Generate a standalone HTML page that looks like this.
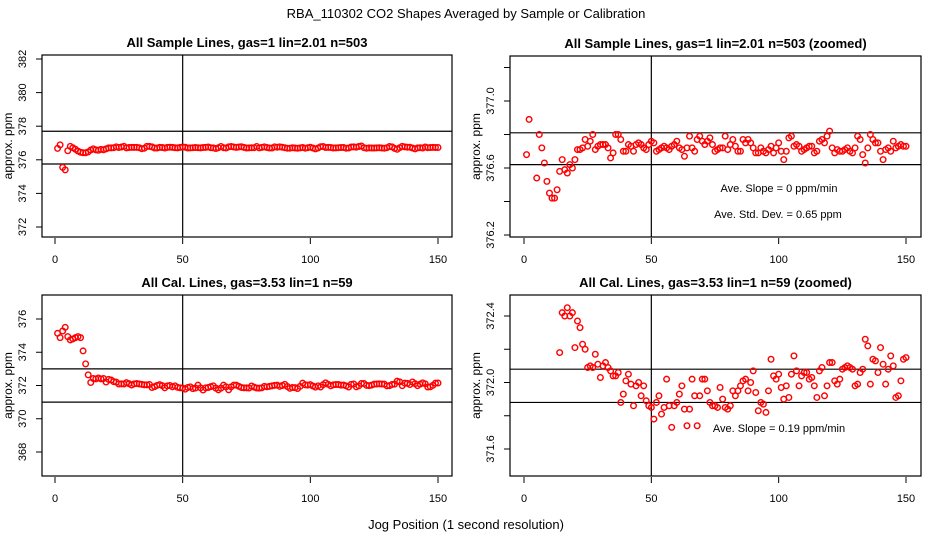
<!DOCTYPE html>
<html><head><meta charset="utf-8"><style>
body{margin:0;background:#fff;}
svg{display:block;font-family:"Liberation Sans",sans-serif;}
</style></head><body>
<svg id="chart" width="936" height="540" viewBox="0 0 936 540">
<text x="466" y="18" text-anchor="middle" font-size="13">RBA_110302  CO2 Shapes Averaged by Sample or Calibration</text>
<text x="466" y="529" text-anchor="middle" font-size="13">Jog Position (1 second resolution)</text>
</svg>
<script>
const sampleValues=[376.68,376.89,375.55,375.40,376.54,376.80,376.72,376.63,376.52,376.45,
376.42,376.42,376.47,376.58,376.65,376.59,376.57,376.62,376.60,376.65,
376.71,376.71,376.72,376.77,376.73,376.76,376.80,376.71,376.73,376.74,
376.74,376.74,376.72,376.66,376.69,376.80,376.80,376.77,376.70,376.70,
376.74,376.73,376.70,376.74,376.75,376.74,376.72,376.71,376.74,376.76,
376.75,376.70,376.71,376.72,376.73,376.72,376.71,376.73,376.74,376.76,
376.72,376.71,376.67,376.72,376.79,376.72,376.70,376.77,376.79,376.76,
376.74,376.76,376.78,376.74,376.70,376.71,376.72,376.72,376.79,376.71,
376.74,376.77,376.73,376.70,376.70,376.77,376.75,376.77,376.75,376.72,
376.69,376.69,376.72,376.70,376.69,376.71,376.73,376.69,376.72,376.75,
376.70,376.65,376.70,376.78,376.79,376.73,376.74,376.73,376.70,376.71,
376.72,376.73,376.73,376.69,376.70,376.76,376.77,376.75,376.79,376.82,
376.72,376.69,376.71,376.70,376.70,376.71,376.72,376.70,376.69,376.72,
376.79,376.77,376.68,376.63,376.72,376.80,376.77,376.75,376.75,376.70,
376.65,376.71,376.72,376.70,376.76,376.72,376.73,376.74,376.73,376.73];
const calValues=[375.14,374.88,375.28,375.50,374.94,374.74,374.80,374.88,374.94,374.88,
374.08,373.30,372.64,372.18,372.42,372.40,372.45,372.40,372.42,372.21,
372.37,372.33,372.23,372.20,372.09,372.10,372.09,372.17,372.11,372.03,
372.10,372.12,372.09,372.07,372.04,372.04,372.06,371.88,371.93,372.01,
372.05,371.99,371.86,371.98,372.00,371.92,371.98,371.89,371.86,371.85,
371.78,371.88,371.92,371.81,371.85,372.02,371.86,371.73,371.86,371.88,
371.93,371.98,371.84,371.74,371.84,372.02,371.92,371.74,371.92,372.02,
372.02,371.95,371.88,371.86,371.86,371.85,371.97,371.90,371.85,371.84,
371.86,371.95,371.92,371.95,371.98,372.01,372.02,371.95,372.00,372.07,
371.94,371.83,371.88,371.87,371.82,371.95,372.14,372.04,372.02,372.05,
371.97,371.90,371.98,371.91,372.05,372.16,372.07,371.98,372.04,372.06,
372.06,372.02,372.03,371.98,371.91,372.07,372.09,371.92,371.98,372.12,
372.12,372.01,371.99,372.02,372.08,372.09,372.10,372.09,372.08,371.98,
371.99,372.06,372.08,372.26,372.22,371.99,372.14,372.13,372.06,372.21,
372.11,371.99,372.08,372.16,372.10,371.91,371.92,372.01,372.14,372.15];
const xTicks=[0,50,100,150];
const ticksTL=[372,374,376,378,380,382];
const ticksTR=[376.2,376.4,376.6,376.8,377.0,377.2];
const ticksBL=[368,370,372,374,376];
const ticksBR=[371.6,371.8,372.0,372.2,372.4];
const labelsTR=["376.2","","376.6","","377.0",""];
const labelsBR=["371.6","","372.0","","372.4"];
const hlinesTL=[377.7,375.75];
const hlinesTR=[376.81,376.62];
const hlinesBL=[373.0,371.0];
const hlinesBR=[372.08,371.88];

const NS="http://www.w3.org/2000/svg";
const svg=document.getElementById('chart');
function mk(tag,attrs,parent){const e=document.createElementNS(NS,tag);for(const k in attrs)e.setAttribute(k,attrs[k]);(parent||svg).appendChild(e);return e;}

function panel(id,cfg){
  const g=mk('g',{});
  
  
  const L=cfg.box[0],T=cfg.box[1],R=cfg.box[2],B=cfg.box[3];
  const xs=v=>cfg.x0+v*(cfg.x150-cfg.x0)/150;
  const ys=v=>cfg.yA+(v-cfg.vA)*(cfg.yB-cfg.yA)/(cfg.vB-cfg.vA);
  const t=mk('text',{x:(L+R)/2,y:T-8,'text-anchor':'middle','font-size':13,'font-weight':'bold'},g);
  t.textContent=cfg.title;
  
  
  const cp=mk('clipPath',{id:'clip-'+id},g);
  mk('rect',{x:L,y:T,width:R-L,height:B-T},cp);
  xTicks.forEach(v=>{
    const x=xs(v);
    mk('line',{x1:x,y1:B+1,x2:x,y2:B+7,stroke:'#000'},g);
    const tx=mk('text',{x:x,y:B+26,'text-anchor':'middle','font-size':11},g);
    tx.textContent=v;
    
    
  });
  cfg.ticks.forEach((v,i)=>{
    const y=ys(v);
    mk('line',{x1:L-6,y1:y,x2:L,y2:y,stroke:'#000'},g);
    const lab=cfg.labels?cfg.labels[i]:String(v);
    if(lab){
      const tx=mk('text',{x:0,y:0,'text-anchor':'middle','font-size':11,transform:`translate(${L-16},${y}) rotate(-90)`},g);
      tx.textContent=lab;
      
      
    }
  });
  const yt=mk('text',{x:0,y:0,'text-anchor':'middle','font-size':12,transform:`translate(${L-30},${(T+B)/2}) rotate(-90)`},g);
  yt.textContent='approx. ppm';
  
  
  cfg.hlines.forEach(v=>{
    const hl=mk('line',{x1:L,x2:R,y1:ys(v),y2:ys(v),stroke:'#000','stroke-width':1.2},g);
    
    
  });
  const vl=mk('line',{x1:xs(50),x2:xs(50),y1:T,y2:B,stroke:'#000','stroke-width':1.2},g);
  
  
  const pg=mk('g',{'clip-path':`url(#clip-${id})`},g);
  cfg.data.forEach((v,i)=>{
    const c=mk('circle',{cx:xs(i+1),cy:ys(v),r:2.8,fill:'none',stroke:'#f00','stroke-width':1.4},pg);
    
    
  });
  mk('rect',{x:L,y:T,width:R-L,height:B-T,fill:'none',stroke:'#000','stroke-width':1.2},g);
  (cfg.notes||[]).forEach(n=>{
    const tx=mk('text',{x:n[0],y:n[1],'text-anchor':'middle','font-size':11},g);
    tx.textContent=n[2];
    
    
  });
}
panel('sample',{box:[42,55,452,237],x0:55,x150:438,vA:382,yA:59,vB:372,yB:227,ticks:ticksTL,hlines:hlinesTL,data:sampleValues,title:'All Sample Lines, gas=1 lin=2.01 n=503'});
panel('sample-zoomed',{box:[510,56,921,237],x0:524,x150:906,vA:377.0,yA:101,vB:376.2,yB:235,ticks:ticksTR,labels:labelsTR,hlines:hlinesTR,data:sampleValues,title:'All Sample Lines, gas=1 lin=2.01 n=503 (zoomed)',notes:[[779,192,'Ave. Slope =  0  ppm/min'],[778,218,'Ave. Std. Dev. =  0.65  ppm']]});
panel('cal',{box:[42,295,452,476],x0:55,x150:438,vA:376,yA:319,vB:368,yB:452,ticks:ticksBL,hlines:hlinesBL,data:calValues,title:'All Cal. Lines, gas=3.53 lin=1 n=59'});
panel('cal-zoomed',{box:[510,295,921,476],x0:524,x150:906,vA:372.4,yA:316,vB:371.6,yB:449,ticks:ticksBR,labels:labelsBR,hlines:hlinesBR,data:calValues,title:'All Cal. Lines, gas=3.53 lin=1 n=59 (zoomed)',notes:[[779,432,'Ave. Slope =  0.19  ppm/min']]});
</script>
</body></html>
